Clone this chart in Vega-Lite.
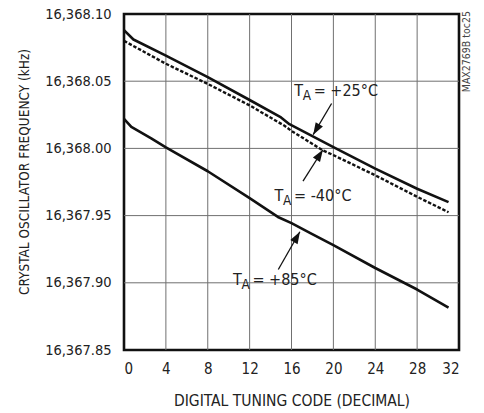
{
  "$schema": "https://vega.github.io/schema/vega-lite/v6.json",
  "width": 335,
  "height": 336,
  "autosize": {"type": "none"},
  "padding": {"left": 124, "top": 14, "right": 25, "bottom": 63},
  "background": "white",
  "config": {
    "view": {"stroke": "#111", "strokeWidth": 2.6},
    "font": "DejaVu Sans Condensed",
    "axis": {
      "grid": false,
      "domain": false,
      "tickSize": 0,
      "labelFont": "DejaVu Sans Condensed",
      "titleFont": "DejaVu Sans Condensed",
      "labelColor": "#222",
      "titleColor": "#222",
      "titleFontWeight": "normal"
    }
  },
  "datasets": {
    "xgrid": [{"gx": 4}, {"gx": 8}, {"gx": 12}, {"gx": 16}, {"gx": 20}, {"gx": 24}, {"gx": 28}],
    "ygrid": [{"gy": 16367.9}, {"gy": 16367.95}, {"gy": 16368.0}, {"gy": 16368.05}],
    "curves": [
      {"code": 0, "freq": 16368.088, "temp": "+25"},
      {"code": 0.9, "freq": 16368.081, "temp": "+25"},
      {"code": 4, "freq": 16368.069, "temp": "+25"},
      {"code": 8, "freq": 16368.053, "temp": "+25"},
      {"code": 12, "freq": 16368.036, "temp": "+25"},
      {"code": 15, "freq": 16368.023, "temp": "+25"},
      {"code": 15.8, "freq": 16368.018, "temp": "+25"},
      {"code": 20, "freq": 16368.001, "temp": "+25"},
      {"code": 24, "freq": 16367.985, "temp": "+25"},
      {"code": 28, "freq": 16367.970, "temp": "+25"},
      {"code": 31, "freq": 16367.960, "temp": "+25"},
      {"code": 0, "freq": 16368.022, "temp": "+85"},
      {"code": 0.7, "freq": 16368.016, "temp": "+85"},
      {"code": 2.6, "freq": 16368.0074, "temp": "+85"},
      {"code": 4, "freq": 16368.0007, "temp": "+85"},
      {"code": 8, "freq": 16367.983, "temp": "+85"},
      {"code": 12, "freq": 16367.963, "temp": "+85"},
      {"code": 14.7, "freq": 16367.949, "temp": "+85"},
      {"code": 16, "freq": 16367.9444, "temp": "+85"},
      {"code": 17.8, "freq": 16367.937, "temp": "+85"},
      {"code": 20, "freq": 16367.928, "temp": "+85"},
      {"code": 24, "freq": 16367.911, "temp": "+85"},
      {"code": 28, "freq": 16367.895, "temp": "+85"},
      {"code": 31, "freq": 16367.8815, "temp": "+85"}
    ],
    "dashed": [
      {"code": 0, "freq": 16368.080},
      {"code": 4, "freq": 16368.063},
      {"code": 8, "freq": 16368.048},
      {"code": 12, "freq": 16368.032},
      {"code": 15.3, "freq": 16368.017},
      {"code": 16, "freq": 16368.013},
      {"code": 19, "freq": 16367.9985},
      {"code": 20, "freq": 16367.995},
      {"code": 24, "freq": 16367.980},
      {"code": 28, "freq": 16367.964},
      {"code": 31, "freq": 16367.9525}
    ],
    "labels": [
      {"lx": 16.26, "ly": 16368.0392, "rest": "= +25°C"},
      {"lx": 14.38, "ly": 16367.961, "rest": "= -40°C"},
      {"lx": 10.41, "ly": 16367.8986, "rest": "= +85°C"}
    ],
    "arrows": [
      {"temp": "+25", "ax": 19.83, "ay": 16368.0334, "tx": 18.07, "ty": 16368.0102},
      {"temp": "-40", "ax": 17.1, "ay": 16367.9756, "tx": 19.0, "ty": 16367.999},
      {"temp": "+85", "ax": 14.74, "ay": 16367.9099, "tx": 16.8, "ty": 16367.938}
    ],
    "note": [
      {"nx": 32.76, "ny": 16368.072, "text": "MAX2769B toc25"}
    ]
  },
  "layer": [
    {
      "data": {"name": "xgrid"},
      "mark": {"type": "rule", "color": "#707070", "strokeWidth": 1},
      "encoding": {
        "x": {
          "field": "gx",
          "type": "quantitative",
          "scale": {"domain": [0, 32], "nice": false, "zero": false},
          "axis": {
            "title": "DIGITAL TUNING CODE (DECIMAL)",
            "values": [0, 4, 8, 12, 16, 20, 24, 28, 32],
            "labelFontSize": 15,
            "titleFontSize": 15.5,
            "labelPadding": 11,
            "titleY": 55,
            "titleBaseline": "alphabetic"
          }
        }
      }
    },
    {
      "data": {"name": "ygrid"},
      "mark": {"type": "rule", "color": "#707070", "strokeWidth": 1},
      "encoding": {
        "y": {
          "field": "gy",
          "type": "quantitative",
          "scale": {"domain": [16367.85, 16368.10], "nice": false, "zero": false},
          "axis": {
            "title": "CRYSTAL OSCILLATOR FREQUENCY (kHz)",
            "values": [16367.85, 16367.9, 16367.95, 16368.0, 16368.05, 16368.1],
            "format": ",.2f",
            "labelFontSize": 14.5,
            "titleFontSize": 13.5,
            "labelPadding": 13,
            "titleX": -100,
            "titleY": 157.5,
            "titleAlign": "center",
            "titleBaseline": "middle"
          }
        }
      }
    },
    {
      "data": {"name": "curves"},
      "mark": {"type": "line", "color": "#111", "strokeWidth": 2.6, "strokeJoin": "round"},
      "encoding": {
        "x": {"field": "code", "type": "quantitative"},
        "y": {"field": "freq", "type": "quantitative"},
        "detail": {"field": "temp"}
      }
    },
    {
      "data": {"name": "dashed"},
      "mark": {"type": "line", "color": "#111", "strokeWidth": 2.4, "strokeDash": [3.5, 1.8]},
      "encoding": {
        "x": {"field": "code", "type": "quantitative"},
        "y": {"field": "freq", "type": "quantitative"}
      }
    },
    {
      "data": {"name": "arrows"},
      "mark": {"type": "rule", "color": "#111", "strokeWidth": 1.3},
      "encoding": {
        "x": {"field": "ax", "type": "quantitative"},
        "y": {"field": "ay", "type": "quantitative"},
        "x2": {"field": "tx"},
        "y2": {"field": "ty"}
      }
    },
    {
      "data": {"name": "arrows"},
      "transform": [{"filter": "datum.temp === '+25'"}],
      "mark": {"type": "point", "shape": "M0,0L0.35,1L-0.35,1Z", "filled": true, "color": "#111", "opacity": 1, "size": 576, "angle": 210.7},
      "encoding": {
        "x": {"field": "tx", "type": "quantitative"},
        "y": {"field": "ty", "type": "quantitative"}
      }
    },
    {
      "data": {"name": "arrows"},
      "transform": [{"filter": "datum.temp === '-40'"}],
      "mark": {"type": "point", "shape": "M0,0L0.35,1L-0.35,1Z", "filled": true, "color": "#111", "opacity": 1, "size": 576, "angle": 32.5},
      "encoding": {
        "x": {"field": "tx", "type": "quantitative"},
        "y": {"field": "ty", "type": "quantitative"}
      }
    },
    {
      "data": {"name": "arrows"},
      "transform": [{"filter": "datum.temp === '+85'"}],
      "mark": {"type": "point", "shape": "M0,0L0.35,1L-0.35,1Z", "filled": true, "color": "#111", "opacity": 1, "size": 576, "angle": 29.5},
      "encoding": {
        "x": {"field": "tx", "type": "quantitative"},
        "y": {"field": "ty", "type": "quantitative"}
      }
    },
    {
      "data": {"name": "labels"},
      "mark": {"type": "text", "text": "T", "align": "left", "baseline": "alphabetic", "fontSize": 16, "color": "#222"},
      "encoding": {
        "x": {"field": "lx", "type": "quantitative"},
        "y": {"field": "ly", "type": "quantitative"}
      }
    },
    {
      "data": {"name": "labels"},
      "mark": {"type": "text", "text": "A", "align": "left", "baseline": "alphabetic", "fontSize": 13.5, "dx": 8.5, "dy": 4.5, "color": "#222"},
      "encoding": {
        "x": {"field": "lx", "type": "quantitative"},
        "y": {"field": "ly", "type": "quantitative"}
      }
    },
    {
      "data": {"name": "labels"},
      "mark": {"type": "text", "align": "left", "baseline": "alphabetic", "fontSize": 16, "dx": 19.5, "color": "#222"},
      "encoding": {
        "x": {"field": "lx", "type": "quantitative"},
        "y": {"field": "ly", "type": "quantitative"},
        "text": {"field": "rest"}
      }
    },
    {
      "data": {"name": "note"},
      "mark": {"type": "text", "align": "center", "baseline": "middle", "angle": 270, "fontSize": 10.5, "color": "#444"},
      "encoding": {
        "x": {"field": "nx", "type": "quantitative"},
        "y": {"field": "ny", "type": "quantitative"},
        "text": {"field": "text"}
      }
    }
  ]
}
